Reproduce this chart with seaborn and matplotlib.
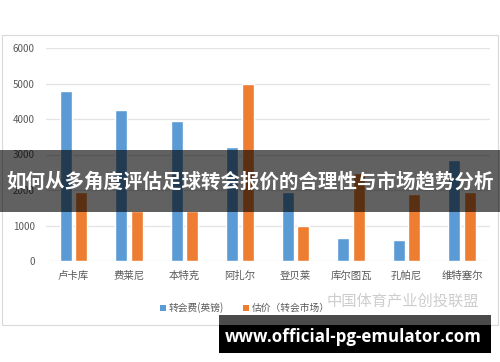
import matplotlib
matplotlib.use("Agg")
import matplotlib.pyplot as plt
from matplotlib.patches import Rectangle, Patch
import seaborn as sns
import pandas as pd

sns.set_style("white")
plt.rcParams['font.family'] = ['Noto Sans CJK SC', 'DejaVu Sans']

players = ["卢卡库", "费莱尼", "本特克", "阿扎尔", "登贝莱", "库尔图瓦", "孔帕尼", "维特塞尔"]
series_names = ["转会费(英镑)", "估价（转会市场）"]
fee = [4800, 4250, 3950, 3200, 1950, 640, 590, 2850]
valuation = [1950, 1400, 1400, 5000, 1000, 2470, 1900, 1950]
yticks = [0, 1000, 2000, 3000, 4000, 5000, 6000]
title = "如何从多角度评估足球转会报价的合理性与市场趋势分析"
url = "www.official-pg-emulator.com"
watermark = "中国体育产业创投联盟"

colors = ["#5b9bd5", "#ed7d31"]

df = pd.DataFrame({
    "player": players * 2,
    "value": fee + valuation,
    "series": [series_names[0]] * len(players) + [series_names[1]] * len(players),
})

W, H = 500, 362
fig = plt.figure(figsize=(W / 100, H / 100), dpi=100)
fig.patch.set_facecolor("white")

# chart card frame
fig.patches.append(Rectangle((2 / W, 1 - 325 / H), 496 / W, 290 / H, transform=fig.transFigure,
                             facecolor="white", edgecolor="#d9d9d9", linewidth=0.8, zorder=-1))

ax = fig.add_axes([45.75 / W, 1 - 261 / H, 444 / W, 213 / H])
sns.barplot(data=df, x="player", y="value", hue="series", palette=colors,
            width=0.56, gap=0.23, ax=ax, legend=False, saturation=1)
ax.set_facecolor("none")
ax.set_ylim(0, 6000)
ax.set_yticks(yticks)
ax.set_yticklabels([str(t) for t in yticks], color="#595959", fontsize=7)
ax.tick_params(axis="y", length=0, pad=8)
ax.tick_params(axis="x", length=0, pad=7, labelsize=7.5, labelcolor="#595959")
ax.set_xlabel("")
ax.set_ylabel("")
ax.set_xlim(-0.5, len(players) - 0.5)
ax.yaxis.grid(True, color="#e3e3e3", linewidth=0.9)
ax.set_axisbelow(True)
for s in ax.spines.values():
    s.set_visible(False)

handles = [Patch(facecolor=c, edgecolor="none") for c in colors]
fig.legend(handles, series_names, loc="center", bbox_to_anchor=(245 / W, 1 - 308 / H),
           ncol=2, frameon=False, fontsize=7, handlelength=0.6, handleheight=0.6,
           handletextpad=0.3, columnspacing=2.0, labelcolor="#595959")

# watermark
fig.text(403 / W, 1 - 301 / H, watermark, ha="center", va="center", fontsize=11,
         color="#c8c8c8", alpha=0.9, zorder=6)

# title banner overlay
fig.patches.append(Rectangle((0, 1 - 212 / H), 1, 62 / H, transform=fig.transFigure,
                             facecolor="black", alpha=0.62, edgecolor="none", zorder=5))
fig.text(250 / W, 1 - 182 / H, title, ha="center", va="center", fontsize=14,
         fontweight="bold", color="white", zorder=6)

# url box
fig.patches.append(Rectangle((219 / W, 1 - 325 / H), 272 / W, 10 / H, transform=fig.transFigure,
                             facecolor="#4a4a4a", edgecolor="none", zorder=5))
fig.patches.append(Rectangle((219 / W, 1 - 353 / H), 272 / W, 28 / H, transform=fig.transFigure,
                             facecolor="black", edgecolor="none", zorder=5))
fig.text(353 / W, 1 - 336.5 / H, url, ha="center", va="center", fontsize=12.2,
         fontweight="bold", color="white", family=["Open Sans", "DejaVu Sans"], zorder=6)

fig.savefig("out.png", dpi=100)
